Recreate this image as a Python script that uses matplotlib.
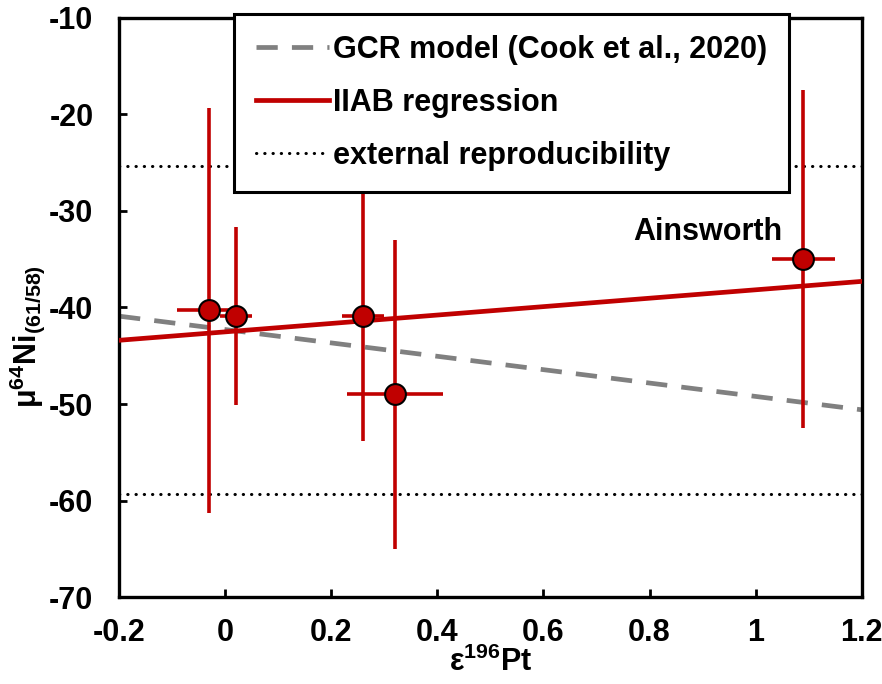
import matplotlib
matplotlib.use("Agg")
import matplotlib.pyplot as plt
import numpy as np

plt.rcParams['font.family'] = ['Liberation Sans', 'DejaVu Sans']
plt.rcParams['font.weight'] = 'bold'
plt.rcParams['axes.unicode_minus'] = False
plt.rcParams['mathtext.fontset'] = 'custom'
plt.rcParams['mathtext.rm'] = 'Liberation Sans:bold'
plt.rcParams['mathtext.bf'] = 'Liberation Sans:bold'
plt.rcParams['mathtext.default'] = 'bf'

# data
pt_x = [-0.03, 0.02, 0.26, 0.32, 1.09]
pt_xerr = [0.06, 0.03, 0.04, 0.09, 0.06]
ni_y = [-40.3, -40.9, -40.9, -49.0, -35.0]
ni_yerr = [21.0, 9.2, 12.9, 16.0, 17.5]

line_x = [-0.2, 1.2]
regression_y = [-43.4, -37.3]
gcr_y = [-40.9, -50.6]
repro_levels = [-25.3, -59.3]

xticks = [-0.2, 0, 0.2, 0.4, 0.6, 0.8, 1.0, 1.2]
xticklabels = ['-0.2', '0', '0.2', '0.4', '0.6', '0.8', '1', '1.2']
yticks = [-70, -60, -50, -40, -30, -20, -10]

red = '#C00000'
FS = 22

fig = plt.figure(figsize=(8.82, 6.84), dpi=100)
ax = fig.add_axes([0.135, 0.127, 0.842, 0.847])

l_gcr, = ax.plot(line_x, gcr_y, color='#808080', lw=3.4, dashes=(4.5, 3.0),
                 label='GCR model (Cook et al., 2020)', zorder=2)
l_reg, = ax.plot(line_x, regression_y, color=red, lw=3.4,
                 label='IIAB regression', zorder=3)
l_rep = None
for lv in repro_levels:
    l_rep, = ax.plot(line_x, [lv, lv], color='black', lw=2.2, ls=(0, (0.1, 2.6)),
                     dash_capstyle='round', solid_capstyle='round',
                     label='external reproducibility', zorder=1)

ax.errorbar(pt_x, ni_y, xerr=pt_xerr, yerr=ni_yerr, fmt='o', color=red,
            ecolor=red, elinewidth=2.6, capsize=0, markersize=15,
            markerfacecolor=red, markeredgecolor='black', markeredgewidth=1.5,
            zorder=4)

ax.text(0.91, -32.2, 'Ainsworth', fontsize=FS, fontweight='bold',
        ha='center', va='center')

ax.set_xlim(-0.2, 1.2)
ax.set_ylim(-70, -10)
ax.set_xticks(xticks)
ax.set_xticklabels(xticklabels)
ax.set_yticks(yticks)
ax.tick_params(axis='both', direction='in', length=6, width=2, labelsize=FS)
ax.tick_params(axis='y', pad=18.5)
ax.tick_params(axis='x', pad=15)
for lab in ax.get_xticklabels() + ax.get_yticklabels():
    lab.set_fontweight('bold')
for s in ax.spines.values():
    s.set_linewidth(2.4)

ax.set_xlabel(r'ε$^{196}$Pt', fontsize=FS, fontweight='bold', labelpad=-1)
ax.set_ylabel(r'μ$^{64}$Ni$_{(61/58)}$', fontsize=FS, fontweight='bold')
ax.yaxis.set_label_coords(-0.097, 0.45)

leg = ax.legend(handles=[l_gcr, l_reg, l_rep], loc='upper left',
                bbox_to_anchor=(0.155, 1.007), frameon=True,
                fancybox=False, edgecolor='black', framealpha=1,
                handlelength=2.4, handletextpad=0.15, borderpad=0.7,
                borderaxespad=0, labelspacing=0.75,
                prop={'weight': 'bold', 'size': FS})
leg.get_frame().set_linewidth(2.2)
leg.set_zorder(10)

fig.savefig('out.png', dpi=100)
